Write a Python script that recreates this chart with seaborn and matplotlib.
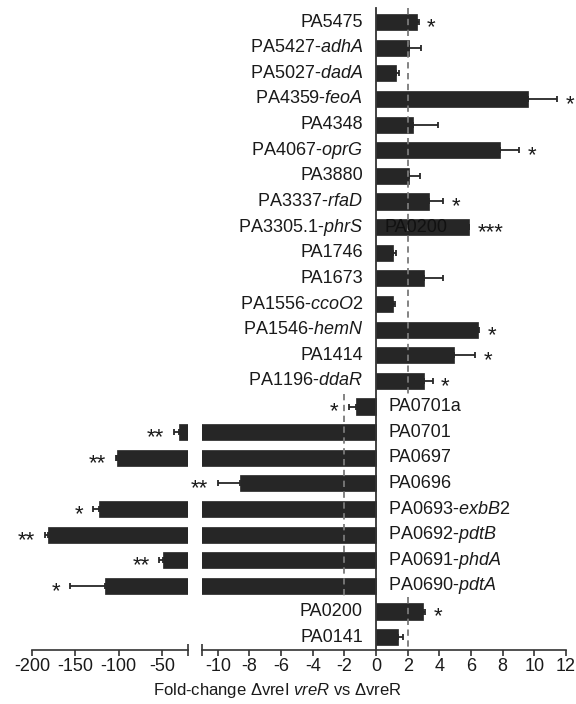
import matplotlib
matplotlib.use("Agg")
import matplotlib.pyplot as plt
import seaborn as sns
import pandas as pd
import numpy as np

loci = ["PA5475", "PA5427", "PA5027", "PA4359", "PA4348", "PA4067", "PA3880",
        "PA3337", "PA3305.1", "PA1746", "PA1673", "PA1556", "PA1546", "PA1414",
        "PA1196", "PA0701a", "PA0701", "PA0697", "PA0696", "PA0693", "PA0692",
        "PA0691", "PA0690", "PA0200", "PA0141"]
symbols = ["", "adhA", "dadA", "feoA", "", "oprG", "", "rfaD", "phrS", "", "",
           "ccoO2", "hemN", "", "ddaR", "", "", "", "", "exbB2", "pdtB", "phdA",
           "pdtA", "", ""]
fold_change = [2.57, 2.06, 1.26, 9.57, 2.36, 7.82, 2.10, 3.37, 5.85, 1.09, 3.05,
               1.05, 6.41, 4.92, 3.01, -1.26, -30.4, -102.0, -8.58, -122.7,
               -181.8, -48.5, -115.7, 2.94, 1.41]
error = [0.12, 0.76, 0.19, 1.87, 1.53, 1.22, 0.68, 0.88, 0.05, 0.17, 1.20, 0.17,
         0.11, 1.33, 0.57, 0.48, 5.6, 1.5, 1.42, 7.3, 3.2, 4.5, 40.3, 0.15, 0.32]
stars = ["*", "", "", "*", "", "*", "", "*", "***", "", "", "", "*", "*", "*",
         "*", "**", "**", "**", "*", "**", "**", "*", "*", ""]

plt.rcParams["font.family"] = ["Liberation Sans", "DejaVu Sans"]
plt.rcParams["mathtext.fontset"] = "custom"
plt.rcParams["mathtext.rm"] = "Liberation Sans"
plt.rcParams["mathtext.it"] = "Liberation Sans:italic"
plt.rcParams["axes.unicode_minus"] = False

BAR = "#262626"
AXC = "#333333"
TXT = "#1a1a1a"
FS = 13
SFS = 16

df = pd.DataFrame({"locus": loci, "fc": fold_change})
n = len(loci)

fig = plt.figure(figsize=(5.76, 7.04), dpi=100)
bottom = 1 - 650 / 704
height = 642 / 704
axL = fig.add_axes([32 / 576, bottom, 156 / 576, height])
axR = fig.add_axes([202 / 576, bottom, 364 / 576, height])

for ax in (axL, axR):
    sns.barplot(data=df, x="fc", y="locus", order=loci, orient="h", color=BAR,
                saturation=1, width=0.63, ax=ax, errorbar=None)
    for p in ax.patches:
        p.set_edgecolor(BAR)
        p.set_linewidth(0.5)
    ypos = np.arange(n)
    lo = [e if v < 0 else 0 for v, e in zip(fold_change, error)]
    hi = [e if v >= 0 else 0 for v, e in zip(fold_change, error)]
    ax.errorbar(fold_change, ypos, xerr=[lo, hi], fmt="none", ecolor=BAR,
                elinewidth=1.3, capsize=2.5, capthick=1.3, zorder=3)
    ax.set_ylim(24.5, -0.55)
    ax.set_ylabel("")
    ax.set_xlabel("")
    ax.tick_params(left=False, labelleft=False)
    for s in ("top", "right"):
        ax.spines[s].set_visible(False)
    ax.spines["bottom"].set_color(AXC)
    ax.spines["bottom"].set_linewidth(1.2)
    ax.tick_params(axis="x", which="major", direction="out", length=4, width=1.2,
                   color=AXC, labelsize=FS, labelcolor=TXT, pad=2)
    ax.tick_params(axis="x", which="minor", direction="inout", length=9, width=1.2,
                   color=AXC)
    ax.set_facecolor("none")

# left (broken) axis
axL.set_xlim(-200, -20)
axL.spines["left"].set_visible(False)
axL.set_xticks([-200, -150, -100, -50])
axL.set_xticks([-20], minor=True)

# right axis
axR.set_xlim(-11, 12)
axR.spines["left"].set_position(("data", 0))
axR.spines["left"].set_color(AXC)
axR.spines["left"].set_linewidth(1.3)
axR.set_xticks(list(range(-10, 13, 2)))
axR.set_xticks([-11], minor=True)

# threshold lines
dash = dict(color="#7a7a7a", linestyle=(0, (3.5, 2.5)), linewidth=1.3, zorder=4)
axR.vlines(2, -0.55, 14.5, **dash)
axR.vlines(2, 22.45, 24.5, **dash)
axR.vlines(-2, 14.5, 22.45, **dash)

# gene labels
for i, (loc, sym, v) in enumerate(zip(loci, symbols, fold_change)):
    lab = loc + ("-$\\mathit{" + sym + "}$" if sym else "")
    if v >= 0:
        axR.text(-0.84, i, lab, ha="right", va="center", fontsize=FS, color=TXT)
    else:
        axR.text(0.78, i, lab, ha="left", va="center", fontsize=FS, color=TXT)

# stray overlay label
axR.text(2.5, loci.index("PA3305.1"), "PA0200", ha="center", va="center",
         fontsize=FS, color="#111111", zorder=5)

# significance stars
for i, (v, e, s) in enumerate(zip(fold_change, error, stars)):
    if not s:
        continue
    if v >= 0:
        axR.annotate(s, (v + e, i), xytext=(6, -4), textcoords="offset points",
                     ha="left", va="center", fontsize=SFS, color=TXT,
                     annotation_clip=False)
    else:
        end = v - e
        ax = axR if end > -11 else axL
        ax.annotate(s, (end, i), xytext=(-7, -4), textcoords="offset points",
                    ha="right", va="center", fontsize=SFS, color=TXT,
                    annotation_clip=False)

fig.text(277 / 576, 1 - 691 / 704,
         "Fold-change \u0394vreI $\\mathit{vreR}$ vs \u0394vreR",
         ha="center", va="center", fontsize=12, color=TXT)

fig.savefig("out.png", dpi=100)
